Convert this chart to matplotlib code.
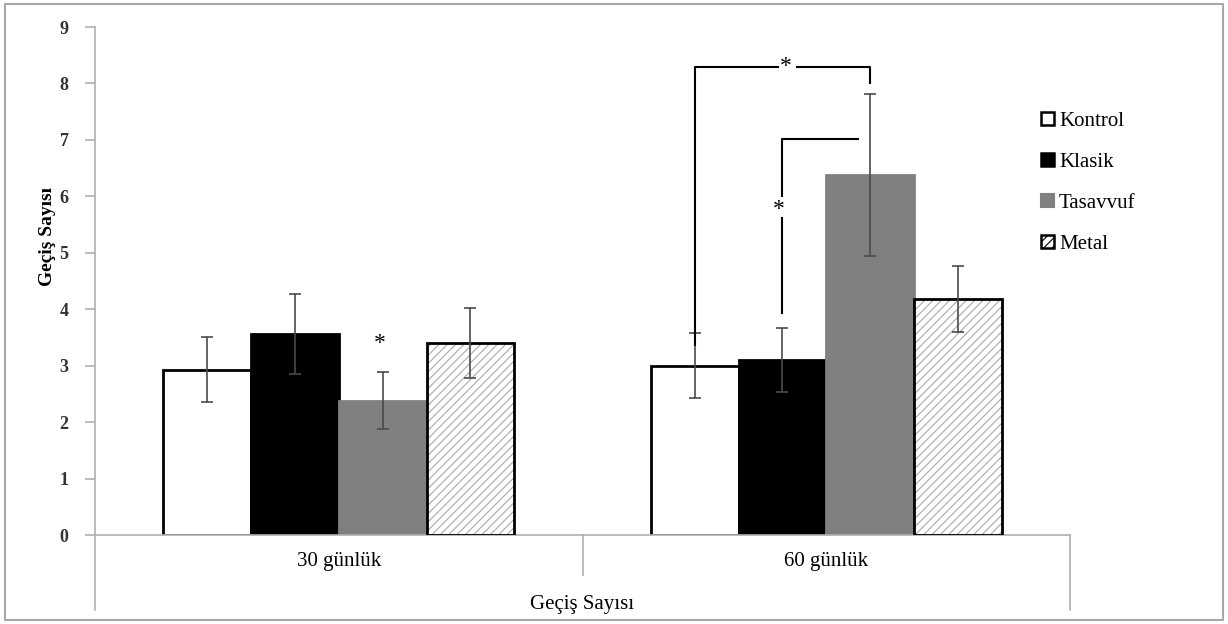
import numpy as np
import matplotlib.pyplot as plt
from matplotlib.patches import Patch, Rectangle

plt.rcParams['font.family'] = ['Liberation Serif', 'DejaVu Serif']
plt.rcParams['hatch.linewidth'] = 0.8

# veriler
kategoriler = ['30 günlük', '60 günlük']
gruplar = ['Kontrol', 'Klasik', 'Tasavvuf', 'Metal']
ortalama = {
    'Kontrol': [2.93, 3.00],
    'Klasik': [3.56, 3.10],
    'Tasavvuf': [2.38, 6.38],
    'Metal': [3.40, 4.18],
}
hata = {
    'Kontrol': [0.58, 0.57],
    'Klasik': [0.71, 0.57],
    'Tasavvuf': [0.50, 1.44],
    'Metal': [0.62, 0.59],
}
yticks = list(range(0, 10))

renk = {'Kontrol': 'white', 'Klasik': 'black', 'Tasavvuf': '#808080', 'Metal': 'white'}
kenar = {'Kontrol': 'black', 'Klasik': 'black', 'Tasavvuf': '#808080', 'Metal': 'black'}

fig = plt.figure(figsize=(12.28, 6.24), dpi=100)
ax = fig.add_axes([95/1228, 1 - 535/624, (1070 - 95)/1228, (535 - 27)/624])

x = np.arange(len(kategoriler))
w = 0.18
for i, g in enumerate(gruplar):
    xp = x + (i - 1.5) * w
    if g == 'Metal':
        ax.bar(xp, ortalama[g], w, color='white', edgecolor='#a8a8a8', hatch='////', lw=0, zorder=2)
        ax.bar(xp, ortalama[g], w, fill=False, edgecolor='black', lw=2, zorder=3)
    else:
        ax.bar(xp, ortalama[g], w, color=renk[g], edgecolor=kenar[g], lw=2, zorder=2)
    ax.errorbar(xp, ortalama[g], yerr=hata[g], fmt='none', ecolor='#4a4a4a',
                elinewidth=1.2, capsize=4, capthick=1.2, zorder=4)

ax.set_xlim(-0.5, 1.5)
ax.set_ylim(0, 9)
ax.set_yticks(yticks)
ax.set_yticklabels([str(t) for t in yticks], fontsize=13, fontweight='bold', color='#333333')
ax.set_xticks([])
for s in ['top', 'right']:
    ax.spines[s].set_visible(False)
ax.spines['left'].set_color('#b0b0b0')
ax.spines['bottom'].set_color('#b0b0b0')
ax.spines['left'].set_linewidth(1.2)
ax.spines['bottom'].set_linewidth(1.2)
ax.tick_params(axis='y', length=7, color='#b0b0b0', width=1.2, pad=12)
ax.set_ylabel('Geçiş Sayısı', fontsize=14, fontweight='bold')
ax.yaxis.set_label_coords(-0.040, 0.587)

# kategori ekseni altı
tr = ax.get_xaxis_transform()
ax.plot([-0.5, -0.5], [0, -0.148], color='#b0b0b0', lw=1.2, transform=tr, clip_on=False)
ax.plot([1.5, 1.5], [0, -0.148], color='#b0b0b0', lw=1.2, transform=tr, clip_on=False)
ax.plot([0.5, 0.5], [0, -0.079], color='#b0b0b0', lw=1.2, transform=tr, clip_on=False)
for xi, k in zip(x, kategoriler):
    ax.text(xi, -0.053, k, transform=tr, ha='center', va='center', fontsize=15)
ax.text(0.5, -0.136, 'Geçiş Sayısı', transform=tr, ha='center', va='center', fontsize=15)

# anlamlılık işaretleri
kx = 1 - 1.5 * w   # Kontrol 60
klx = 1 - 0.5 * w  # Klasik 60
tx = 1 + 0.5 * w   # Tasavvuf 60
ax.plot([kx, kx, 0.90], [3.37, 8.30, 8.30], color='black', lw=1.5, zorder=5)
ax.plot([0.94, tx, tx], [8.30, 8.30, 8.01], color='black', lw=1.5, zorder=5)
ax.text(0.918, 8.30, '*', ha='center', va='center', fontsize=17)
ax.plot([klx, klx], [3.94, 5.62], color='black', lw=1.5, zorder=5)
ax.plot([klx, klx, 1.065], [6.01, 7.02, 7.02], color='black', lw=1.5, zorder=5)
ax.text(klx - 0.007, 5.76, '*', ha='center', va='center', fontsize=17)
ax.text(0 + 0.5 * w - 0.005, 3.40, '*', ha='center', va='center', fontsize=17)

# lejant
tutamac = []
for g in gruplar:
    if g == 'Metal':
        tutamac.append(Patch(facecolor='white', edgecolor='black', hatch='////', lw=1.8, label=g))
    elif g == 'Tasavvuf':
        tutamac.append(Patch(facecolor=renk[g], edgecolor=renk[g], lw=1.5, label=g))
    else:
        tutamac.append(Patch(facecolor=renk[g], edgecolor='black', lw=1.8, label=g))
ax.legend(handles=tutamac, loc='upper left', bbox_to_anchor=(0.962, 0.85), frameon=False,
          fontsize=15, handlelength=0.6, handleheight=0.6, handletextpad=0.25,
          labelspacing=1.06, borderaxespad=0)

fig.patches.append(Rectangle((0.004, 0.006), 0.992, 0.988, transform=fig.transFigure,
                             fill=False, edgecolor='#a8a8a8', lw=1.5))

fig.savefig('out.png', dpi=100)
